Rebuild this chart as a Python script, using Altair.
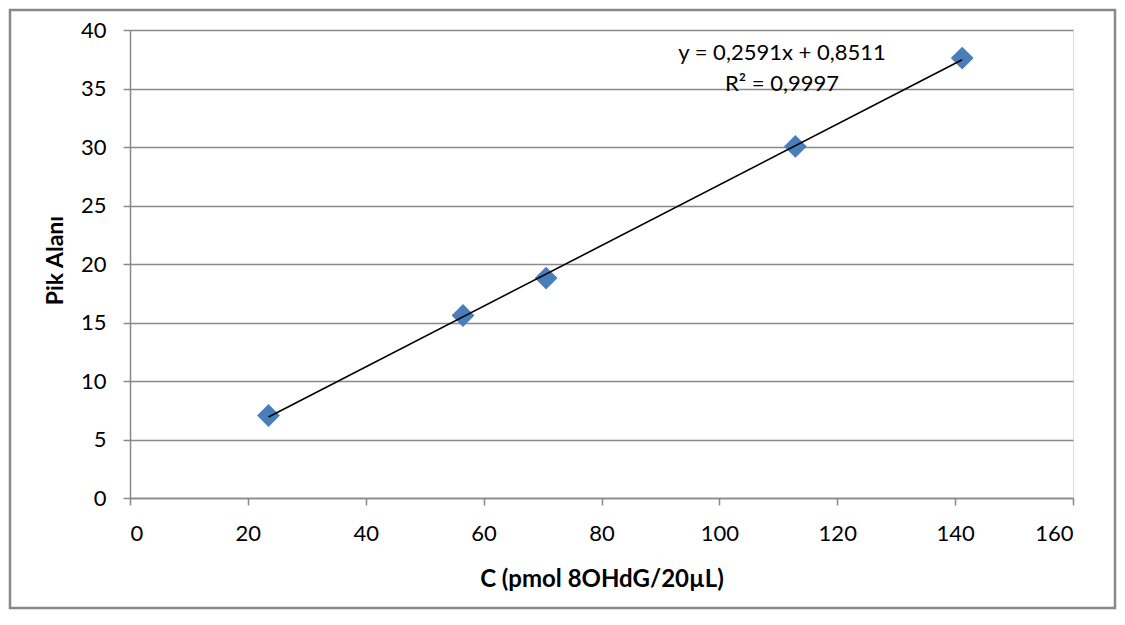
import altair as alt
import pandas as pd

# Data
conc = [23.5, 56.5, 70.6, 112.9, 141.2]          # C (pmol 8OHdG/20µL)
area = [7.05, 15.6, 18.8, 30.05, 37.6]           # Pik Alanı
eq_lines = ["y = 0,2591x + 0,8511", "R² = 0,9997"]
x_ticks = [0, 20, 40, 60, 80, 100, 120, 140, 160]
y_ticks = [0, 5, 10, 15, 20, 25, 30, 35, 40]
x_title = "C (pmol 8OHdG/20µL)"
y_title = "Pik Alanı"

df = pd.DataFrame({"C": conc, "A": area})

W, H = 943, 468
FONT = "Lato"
GRAY = "#898989"

x_enc = alt.X(
    "C:Q",
    scale=alt.Scale(domain=[0, 160], nice=False, zero=True),
    axis=alt.Axis(
        values=x_ticks, title=x_title, grid=False,
        labelFont=FONT, labelFontSize=22, labelColor="black",
        labelPadding=18, tickSize=7, tickColor=GRAY, domainColor=GRAY,
        tickWidth=1.5, domainWidth=1.5,
        titleFont=FONT, titleFontSize=24, titleFontWeight="bold", titleColor="black",
        titleX=W / 2, titleY=81, titleBaseline="middle", titleAlign="center",
    ),
)
y_enc = alt.Y(
    "A:Q",
    scale=alt.Scale(domain=[0, 40], nice=False),
    axis=alt.Axis(
        values=y_ticks, title=y_title, grid=True, gridColor=GRAY, gridWidth=1.5,
        labelFont=FONT, labelFontSize=22, labelColor="black",
        labelPadding=17, tickSize=7, tickColor=GRAY, domainColor=GRAY,
        tickWidth=1.5, domainWidth=1.5,
        titleFont=FONT, titleFontSize=23, titleFontWeight="bold", titleColor="black",
        titleX=-75, titleY=H / 2 - 4, titleAngle=270, titleBaseline="middle", titleAlign="center",
    ),
)

base = alt.Chart(df)

points = base.mark_point(
    shape="diamond", filled=True, size=520, color="#4a7ebb", opacity=1
).encode(x=x_enc, y=y_enc)

trend = base.transform_regression("C", "A").mark_line(
    color="black", strokeWidth=1.6
).encode(x="C:Q", y="A:Q")

eq1 = alt.Chart(pd.DataFrame({"t": [eq_lines[0]]})).mark_text(
    font=FONT, fontSize=22, color="black", align="center", baseline="middle"
).encode(x=alt.value(652), y=alt.value(23), text="t:N")

eq2 = alt.Chart(pd.DataFrame({"t": [eq_lines[1]]})).mark_text(
    font=FONT, fontSize=22, color="black", align="center", baseline="middle"
).encode(x=alt.value(652), y=alt.value(54), text="t:N")

frame = alt.Chart(pd.DataFrame({"frame": [1]})).mark_rect(
    fill=None, stroke=GRAY, strokeWidth=2.5
).encode(
    x=alt.value(-120), x2=alt.value(985), y=alt.value(-20), y2=alt.value(578)
)

chart = alt.layer(frame, points, trend, eq1, eq2).properties(
    width=W, height=H,
    autosize=alt.AutoSizeParams(type="none"),
    padding={"left": 122, "top": 22, "right": 44, "bottom": 112},
).configure_view(stroke=None).configure(background="white")

chart.save("out.html", embed_options={"renderer": "svg", "actions": False})
